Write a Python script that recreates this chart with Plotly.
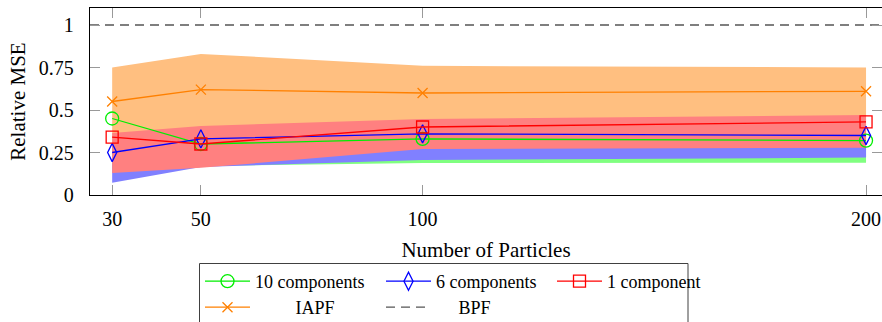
import plotly.graph_objects as go

particles = [30, 50, 100, 200]

mse_10 = [0.45, 0.30, 0.33, 0.32]
mse_6 = [0.25, 0.33, 0.36, 0.35]
mse_1 = [0.34, 0.30, 0.40, 0.43]
mse_iapf = [0.55, 0.62, 0.60, 0.61]
mse_bpf = [1.0, 1.0, 1.0, 1.0]

band_iapf_lo = [0.30, 0.32, 0.36, 0.38]
band_iapf_hi = [0.75, 0.83, 0.76, 0.75]
band_10_lo = [0.15, 0.17, 0.188, 0.19]
band_10_hi = [0.30, 0.35, 0.40, 0.42]
band_6_lo = [0.072, 0.165, 0.206, 0.22]
band_6_hi = [0.30, 0.35, 0.40, 0.42]
band_1_lo = [0.13, 0.16, 0.27, 0.278]
band_1_hi = [0.365, 0.406, 0.447, 0.47]

x_ticks = [30, 50, 100, 200]
y_ticks = [0, 0.25, 0.5, 0.75, 1]
y_tick_text = ["0", "0.25", "0.5", "0.75", "1"]

FONT = "Liberation Serif, Times New Roman, serif"
NB = "\u00a0"

W, H = 882, 322
ML, MR, MT, MB = 90, 0, 8, 127
PW, PH = W - ML - MR, H - MT - MB


def px_x(px):
    return (px - ML) / PW


def px_y(py):
    return (H - MB - py) / PH


fig = go.Figure()


def band(lo, hi, color):
    fig.add_trace(go.Scatter(
        x=particles + particles[::-1], y=hi + lo[::-1], fill="toself",
        fillcolor=color, line=dict(width=0), mode="lines",
        showlegend=False, hoverinfo="skip"))


band(band_iapf_lo, band_iapf_hi, "#ffbf80")
band(band_10_lo, band_10_hi, "#80ff80")
band(band_6_lo, band_6_hi, "#8080ff")
band(band_1_lo, band_1_hi, "#ff8080")

fig.add_trace(go.Scatter(x=particles, y=mse_10, name="10 components", mode="lines+markers",
                         legend="legend", legendwidth=121,
                         line=dict(color="#00ee00", width=1.3),
                         marker=dict(symbol="circle-open", size=13, color="#00ee00", line=dict(width=1.3))))
fig.add_trace(go.Scatter(x=particles, y=mse_6, name="6 components", mode="lines+markers",
                         legend="legend", legendwidth=111,
                         line=dict(color="#0000ff", width=1.3),
                         marker=dict(symbol="diamond-tall-open", size=13, color="#0000ff", line=dict(width=1.3))))
fig.add_trace(go.Scatter(x=particles, y=mse_1, name="1 component", mode="lines+markers",
                         legend="legend", legendwidth=100,
                         line=dict(color="#ff0000", width=1.3),
                         marker=dict(symbol="square-open", size=12, color="#ff0000", line=dict(width=1.3))))
fig.add_trace(go.Scatter(x=particles, y=mse_iapf, name=NB * 9 + "IAPF", mode="lines+markers",
                         legend="legend2", legendwidth=121,
                         line=dict(color="#ff8000", width=1.3),
                         marker=dict(symbol="x-thin-open", size=10, color="#ff8000", line=dict(width=1.3, color="#ff8000"))))
fig.add_trace(go.Scatter(x=[25, 203.6], y=[mse_bpf[0], mse_bpf[-1]], name=NB * 5 + "BPF", mode="lines",
                         legend="legend2", legendwidth=100,
                         line=dict(color="#555555", width=1.3, dash="9px,6px")))

# right-side ticks only (no line)
fig.add_trace(go.Scatter(x=[particles[0]], y=[None], yaxis="y2", showlegend=False, hoverinfo="skip"))

leg_common = dict(orientation="h", xanchor="left", yanchor="top", borderwidth=0,
                  xref="container", yref="container",
                  bgcolor="rgba(0,0,0,0)", entrywidthmode="pixels", font=dict(size=18),
                  itemwidth=45, tracegroupgap=0)

fig.update_layout(
    width=W, height=H,
    margin=dict(l=ML, r=MR, t=MT, b=MB, autoexpand=False),
    paper_bgcolor="white", plot_bgcolor="white",
    font=dict(family=FONT, size=20, color="black"),
    xaxis=dict(range=[25, 203.6], tickvals=x_ticks, ticks="inside", ticklen=10, tickcolor="#999999",
               tickwidth=1, showline=True, linecolor="black", linewidth=1.3, mirror="ticks",
               showgrid=False, zeroline=False, tickfont=dict(size=20), ticklabelstandoff=6,
               title=dict(text="Number of Particles", font=dict(size=21), standoff=13)),
    yaxis=dict(range=[0, 1.1], tickvals=y_ticks, ticktext=y_tick_text, ticks="inside", ticklen=10,
               tickcolor="#999999", tickwidth=1, showline=True, linecolor="black", linewidth=1.3,
               mirror=False, showgrid=False, zeroline=False, tickfont=dict(size=20), ticklabelstandoff=11,
               title=dict(text="Relative MSE", font=dict(size=21), standoff=7)),
    yaxis2=dict(range=[0, 1.1], tickvals=y_ticks, ticks="inside", ticklen=10, tickcolor="#999999",
                overlaying="y", side="right", showticklabels=False, showline=False, showgrid=False,
                zeroline=False),
    legend=dict(x=200 / W, y=1 - 263 / H, **leg_common),
    legend2=dict(x=200 / W, y=1 - 289 / H, **leg_common),
    shapes=[dict(type="rect", xref="paper", yref="paper", x0=px_x(199.5), x1=px_x(688),
                 y0=px_y(263.5), y1=px_y(340), line=dict(color="#404040", width=1),
                 fillcolor="rgba(0,0,0,0)", layer="below")],
    showlegend=True,
)

fig.write_html("out.html")
